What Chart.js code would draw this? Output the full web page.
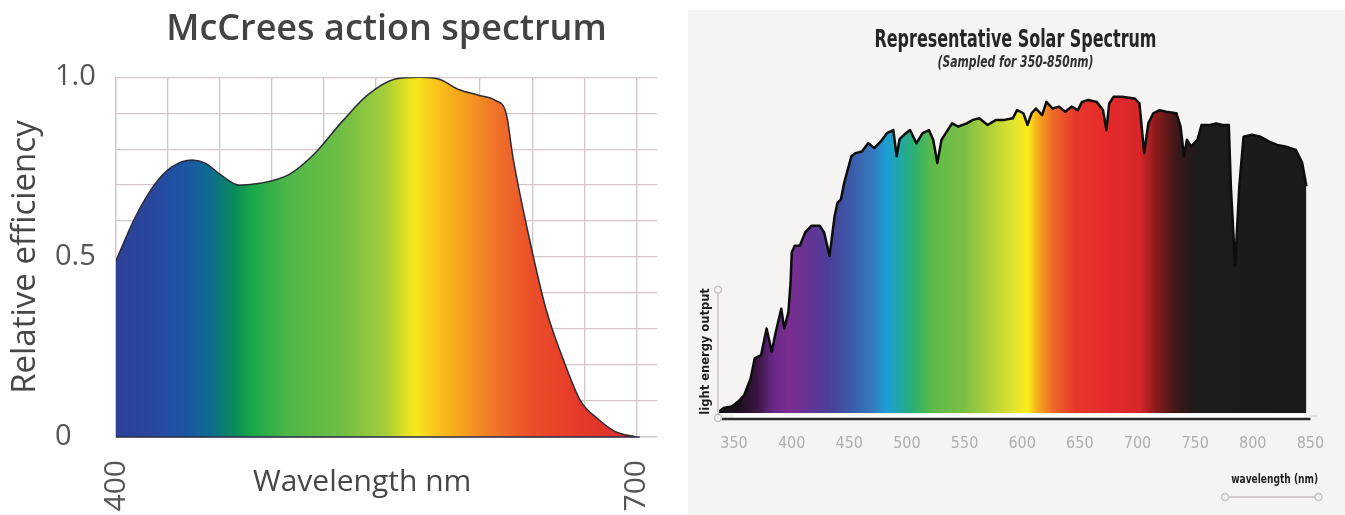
<!DOCTYPE html>
<html>
<head>
<meta charset="utf-8">
<script src="https://cdn.jsdelivr.net/npm/chart.js@4.4.0/dist/chart.umd.min.js"></script>
<style>
html, body { margin: 0; padding: 0; background: #fff; }
body { width: 1345px; height: 515px; position: relative; overflow: hidden; }
#left { position: absolute; left: 0; top: 0; width: 680px; height: 515px; }
#right { position: absolute; left: 688px; top: 10px; width: 657px; height: 505px; background: #f5f4f3; }
</style>
</head>
<body>
<div id="left"><canvas id="action"></canvas></div>
<div id="right"><canvas id="solar"></canvas></div>
<script>
// McCree action spectrum (relative efficiency)
const actionNm = [400, 411, 422, 432, 444, 452, 460, 471, 483, 500, 514, 531, 545, 561, 575, 586, 598, 609, 619, 625, 629, 638, 648, 658, 668, 678, 688, 700];
const actionEff = [0.49, 0.61, 0.70, 0.75, 0.77, 0.76, 0.73, 0.70, 0.705, 0.73, 0.785, 0.88, 0.95, 0.995, 1.0, 0.995, 0.965, 0.95, 0.935, 0.90, 0.775, 0.56, 0.355, 0.215, 0.10, 0.05, 0.015, 0.0];
const actionXLabels = ['400', '700'];
const actionYLabels = ['0', '0.5', '1.0'];

// representative solar spectrum (relative light energy output)
const solarNm = [337, 341, 348, 354, 359, 364.5, 368, 373.5, 378.3, 382.7,
    386.3, 391, 393.6, 397.2, 399.1, 400.1, 402.7, 407.1, 411.8, 417.2,
    424.5, 428.2, 432.9, 437.3, 439.8, 442.7, 445.6, 451.8, 455.4, 460.9,
    466.4, 471.8, 477.3, 482.7, 488.2, 491.1, 493.6, 499.1, 502.7, 508.2,
    513.6, 519.1, 522.8, 526.4, 530, 533.7, 539.1, 544.6, 551.9, 557.3,
    562.8, 570, 577.3, 584.6, 591.9, 595.5, 601, 604.6, 608.2, 611.9,
    617.3, 621, 626.4, 631.9, 637.3, 642.8, 648.3, 651.9, 657.3, 664.6,
    670.1, 673, 675.5, 679.2, 686.5, 697.4, 701.7, 705.8, 709.4, 713.7,
    719.2, 724.7, 733.8, 737.4, 740.3, 742.9, 746.5, 752, 755.6, 762.9,
    768.3, 773.8, 779.2, 781, 784.7, 788.3, 792, 799.2, 806.5, 813.8,
    821.1, 828.3, 837.4, 842.9, 846.5];
const solarOut = [0.005, 0.016, 0.021, 0.037, 0.058, 0.11, 0.173, 0.183, 0.267, 0.194,
    0.257, 0.33, 0.267, 0.319, 0.413, 0.508, 0.529, 0.529, 0.571, 0.592,
    0.592, 0.571, 0.497, 0.623, 0.665, 0.675, 0.728, 0.812, 0.822, 0.827,
    0.853, 0.838, 0.859, 0.885, 0.895, 0.812, 0.866, 0.885, 0.895, 0.853,
    0.885, 0.895, 0.864, 0.791, 0.864, 0.885, 0.916, 0.906, 0.916, 0.927,
    0.932, 0.911, 0.927, 0.927, 0.932, 0.958, 0.948, 0.911, 0.948, 0.963,
    0.942, 0.984, 0.963, 0.969, 0.953, 0.969, 0.958, 0.984, 0.99, 0.984,
    0.958, 0.895, 0.979, 1.0, 1.0, 0.995, 0.979, 0.822, 0.916, 0.948,
    0.958, 0.953, 0.948, 0.906, 0.812, 0.864, 0.843, 0.864, 0.911, 0.911,
    0.916, 0.911, 0.911, 0.717, 0.466, 0.717, 0.874, 0.88, 0.874, 0.859,
    0.848, 0.843, 0.832, 0.791, 0.717];
const solarTicks = [350, 400, 450, 500, 550, 600, 650, 700, 750, 800, 850];

// colour stops of the rainbow fills (nm, colour)
const actionColours = [
    [400, '#2e3f98'], [420, '#28479d'], [440, '#1b55a4'], [455, '#0d6d8e'],
    [468, '#0a8a5c'], [478, '#17a849'], [500, '#4fb748'], [530, '#6fbe45'],
    [555, '#a3cd3a'], [567, '#dfe220'], [573, '#f6e71c'], [585, '#f9c21c'],
    [600, '#f7a21c'], [620, '#f0712a'], [640, '#eb4e29'], [665, '#e73a2a'],
    [690, '#df302a'], [700, '#b52c2a']
];
const solarColours = [
    [337, '#140f16'], [355, '#1d1020'], [370, '#3a1642'], [385, '#68298a'],
    [397, '#7a2d8e'], [412, '#693295'], [432, '#4c3f98'], [452, '#3b5ba9'],
    [470, '#3579bd'], [483, '#1a9fd5'], [495, '#22a8a2'], [506, '#2ab170'],
    [522, '#5db94a'], [550, '#7dbf44'], [575, '#b8d33a'], [595, '#e7e52b'],
    [605, '#fbef1a'], [612, '#f7b31e'], [626, '#ee6b27'], [646, '#e7382a'],
    [672, '#e52b2b'], [702, '#d8262a'], [716, '#8a1a1c'], [735, '#3a1818'],
    [750, '#1e1b1b'], [850, '#1a1a1a']
];

function spectrumFill(stops) {
    return function (context) {
        const chart = context.chart;
        if (!chart.chartArea) return null;
        const xs = chart.scales.x;
        const lo = stops[0][0], hi = stops[stops.length - 1][0];
        const g = chart.ctx.createLinearGradient(xs.getPixelForValue(lo), 0, xs.getPixelForValue(hi), 0);
        stops.forEach(([nm, c]) => g.addColorStop((nm - lo) / (hi - lo), c));
        return g;
    };
}

const sans = "'Open Sans', 'Noto Sans', sans-serif";
const narrow = "'Liberation Sans Narrow', 'DejaVu Sans Condensed', sans-serif";

// x axis title and dark base rule of the left chart
const actionTitle = {
    id: 'actionTitle',
    afterDraw(chart) {
        const {ctx, chartArea: a, scales: {x}} = chart;
        ctx.save();
        ctx.strokeStyle = '#2a2d4a';
        ctx.lineWidth = 1.6;
        ctx.beginPath();
        ctx.moveTo(x.getPixelForValue(400), a.bottom);
        ctx.lineTo(x.getPixelForValue(702), a.bottom);
        ctx.stroke();
        ctx.font = '30px ' + sans;
        ctx.fillStyle = '#474747';
        ctx.textAlign = 'center';
        ctx.textBaseline = 'middle';
        ctx.fillText('Wavelength nm', a.left + (a.right - a.left) * 0.455, a.bottom + 45);
        ctx.restore();
    }
};

new Chart(document.getElementById('action'), {
    type: 'line',
    data: {
        datasets: [{
            data: actionNm.map((nm, i) => ({x: nm, y: actionEff[i]})),
            borderColor: '#2c2c36',
            borderWidth: 1.5,
            backgroundColor: spectrumFill(actionColours),
            fill: 'origin',
            pointRadius: 0,
            cubicInterpolationMode: 'monotone'
        }]
    },
    options: {
        responsive: true,
        maintainAspectRatio: false,
        animation: false,
        layout: {padding: {left: 55, right: 23, top: 0, bottom: 0}},
        plugins: {
            legend: {display: false},
            tooltip: {enabled: false},
            title: {
                display: true,
                text: 'McCrees action spectrum',
                fullSize: false,
                color: '#434343',
                font: {family: sans, size: 36, weight: '600'},
                padding: {top: 8, bottom: 26}
            }
        },
        scales: {
            x: {
                type: 'linear',
                min: 400,
                max: 712,
                afterBuildTicks: s => { s.ticks = []; for (let v = 400; v <= 700; v += 30) s.ticks.push({value: v}); },
                afterFit: s => { s.height = 78; },
                grid: {color: '#d3c6c6', lineWidth: 1.3, drawTicks: false},
                border: {color: '#d3c6c6', width: 1.3},
                ticks: {
                    autoSkip: false,
                    minRotation: 90,
                    maxRotation: 90,
                    padding: 23,
                    color: '#555',
                    font: {family: sans, size: 30, lineHeight: 0.6},
                    callback: v => (v === 400 ? actionXLabels[0] : v === 700 ? actionXLabels[1] : '')
                }
            },
            y: {
                min: 0,
                max: 1,
                afterBuildTicks: s => { s.ticks = []; for (let i = 0; i <= 10; i++) s.ticks.push({value: i / 10}); },
                afterFit: s => { s.width = 61; },
                grid: {color: '#d3c6c6', lineWidth: 1.3, drawTicks: false},
                border: {color: '#d3c6c6', width: 1.3},
                ticks: {
                    autoSkip: false,
                    crossAlign: 'far',
                    color: '#555',
                    font: {family: sans, size: 29},
                    callback: v => {
                        const k = Math.round(v * 10);
                        return k === 0 ? actionYLabels[0] : k === 5 ? actionYLabels[1] : k === 10 ? actionYLabels[2] : '';
                    }
                },
                title: {
                    display: true,
                    text: 'Relative efficiency',
                    color: '#474747',
                    font: {family: sans, size: 33},
                    padding: {top: -49, bottom: 0}
                }
            }
        }
    },
    plugins: [actionTitle]
});

// titles and axis decorations of the right chart
const solarDecor = {
    id: 'solarDecor',
    afterDraw(chart) {
        const {ctx, chartArea: a, scales: {x, y}} = chart;
        const base = y.getPixelForValue(0);
        const mid = chart.width / 2;
        ctx.save();
        ctx.textAlign = 'center';
        ctx.textBaseline = 'middle';
        ctx.fillStyle = '#262626';
        ctx.font = 'bold 25px ' + narrow;
        ctx.fillText('Representative Solar Spectrum', mid - 1, 30, 282);
        ctx.fillStyle = '#303030';
        ctx.font = 'italic bold 15px ' + narrow;
        ctx.fillText('(Sampled for 350-850nm)', mid - 1, 53, 156);

        // pale band under the fill and dark axis line
        ctx.fillStyle = '#ffffff';
        ctx.fillRect(x.getPixelForValue(350), base + 1, x.getPixelForValue(846) - x.getPixelForValue(350), 4);
        ctx.strokeStyle = '#2a2a2a';
        ctx.lineWidth = 2.5;
        ctx.beginPath();
        ctx.moveTo(x.getPixelForValue(337), a.bottom - 1);
        ctx.lineTo(x.getPixelForValue(850), a.bottom - 1);
        ctx.stroke();
        ctx.strokeStyle = '#cfcac8';
        ctx.lineWidth = 1.2;
        ctx.beginPath();
        ctx.moveTo(x.getPixelForValue(850), a.bottom - 4);
        ctx.lineTo(x.getPixelForValue(856), a.bottom - 4);
        ctx.stroke();

        // y axis stub with end circles
        const yx = a.left - 1, yTop = y.getPixelForValue(0.39);
        ctx.strokeStyle = '#c9c3c1';
        ctx.lineWidth = 1.5;
        ctx.beginPath();
        ctx.moveTo(yx, yTop);
        ctx.lineTo(yx, a.bottom - 2);
        ctx.stroke();
        [yTop, a.bottom - 2].forEach(cy => {
            ctx.beginPath();
            ctx.arc(yx, cy, 3.5, 0, Math.PI * 2);
            ctx.fillStyle = '#f5f4f3';
            ctx.fill();
            ctx.stroke();
        });
        ctx.save();
        ctx.translate(a.left - 13, y.getPixelForValue(0.195));
        ctx.rotate(-Math.PI / 2);
        ctx.font = 'bold 11.5px "DejaVu Sans", sans-serif';
        ctx.fillStyle = '#1e1e1e';
        ctx.fillText('light energy output', 0, 0, 134);
        ctx.restore();

        // x axis title with its slider-like rule
        ctx.font = 'bold 13px ' + narrow;
        ctx.fillStyle = '#1e1e1e';
        ctx.fillText('wavelength (nm)', x.getPixelForValue(819), a.bottom + 60, 87);
        const r0 = x.getPixelForValue(776), r1 = x.getPixelForValue(857), ry = a.bottom + 77;
        ctx.beginPath();
        ctx.moveTo(r0, ry);
        ctx.lineTo(r1, ry);
        ctx.stroke();
        [r0, r1].forEach(cx => {
            ctx.beginPath();
            ctx.arc(cx, ry, 3.5, 0, Math.PI * 2);
            ctx.fillStyle = '#f5f4f3';
            ctx.fill();
            ctx.stroke();
        });
        ctx.restore();
    }
};

new Chart(document.getElementById('solar'), {
    type: 'line',
    data: {
        datasets: [{
            data: solarNm.map((nm, i) => ({x: nm, y: solarOut[i]})),
            borderColor: '#0d0d0d',
            borderWidth: 2.5,
            borderJoinStyle: 'round',
            backgroundColor: spectrumFill(solarColours),
            fill: 'origin',
            pointRadius: 0,
            tension: 0
        }]
    },
    options: {
        responsive: true,
        maintainAspectRatio: false,
        animation: false,
        layout: {padding: {top: 71, left: 0, right: 0, bottom: 0}},
        plugins: {
            legend: {display: false},
            tooltip: {enabled: false},
            title: {display: false}
        },
        scales: {
            x: {
                type: 'linear',
                min: 337,
                max: 880,
                afterBuildTicks: s => { s.ticks = solarTicks.map(v => ({value: v})); },
                afterFit: s => { s.height = 95; },
                grid: {display: false},
                border: {display: false},
                ticks: {
                    autoSkip: false,
                    maxRotation: 0,
                    padding: 6,
                    color: '#b2adaa',
                    font: {family: narrow, size: 16}
                }
            },
            y: {
                min: -0.022,
                max: 1.05,
                afterFit: s => { s.width = 31; },
                grid: {display: false},
                border: {display: false},
                ticks: {display: false}
            }
        }
    },
    plugins: [solarDecor]
});
</script>
</body>
</html>
